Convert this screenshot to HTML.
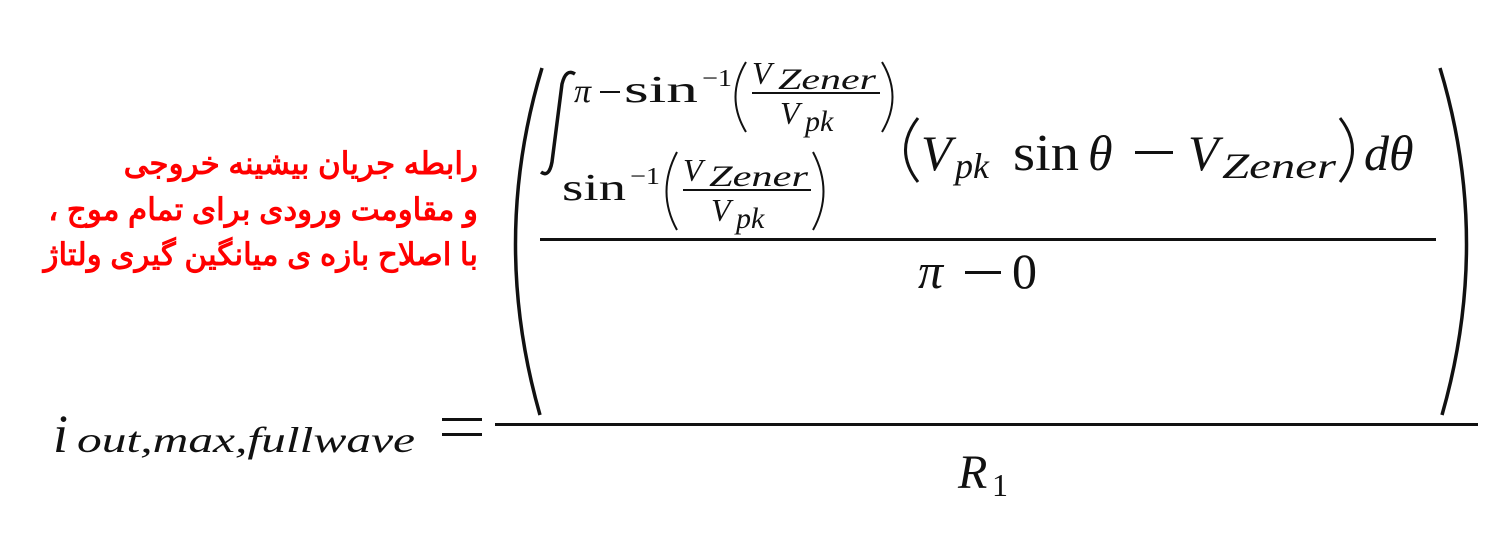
<!DOCTYPE html>
<html><head><meta charset="utf-8"><style>
html,body{margin:0;padding:0;background:#fff;}
.rt{position:absolute;right:1027px;font-family:"Liberation Sans","Noto Sans CJK SC",sans-serif;font-weight:bold;color:#f00;font-size:31px;direction:rtl;white-space:nowrap;line-height:1}
</style></head><body>
<div style="position:relative;width:1505px;height:539px;overflow:hidden">
<div class="rt" style="top:148px">رابطه جریان بیشینه خروجی</div>
<div class="rt" style="top:194px">و مقاومت ورودی برای تمام موج ،</div>
<div class="rt" style="top:239px">با اصلاح بازه ی میانگین گیری ولتاژ</div>
<svg width="1505" height="539" style="position:absolute;left:0;top:0" font-family="Liberation Serif, serif" fill="#111">
<text x="53" y="452" font-size="54" font-style="italic">i</text>
<text x="77" y="452" font-size="36" font-style="italic" textLength="338" lengthAdjust="spacingAndGlyphs">out,max,fullwave</text>
<rect x="442" y="418" width="40" height="3"/><rect x="442" y="433" width="40" height="3"/>
<rect x="495" y="423" width="983" height="3"/>
<text x="958" y="488" font-size="48" font-style="italic">R</text>
<text x="992" y="496" font-size="32">1</text>
<path d="M542 68 Q490 240 540 415" stroke="#111" stroke-width="3.5" fill="none"/>
<path d="M1440 68 Q1492 240 1442 415" stroke="#111" stroke-width="3.5" fill="none"/>
<rect x="540" y="238" width="896" height="3"/>
<text x="918" y="288" font-size="50" font-style="italic">π</text>
<rect x="965" y="271" width="36" height="3"/>
<text x="1012" y="288" font-size="50">0</text>
<path d="M575 74 Q566 68 562 84 L552 162 Q549 178 541 172" stroke="#111" stroke-width="3.5" fill="none"/>
<!-- upper limit -->
<text x="574" y="102" font-size="34" font-style="italic">π</text>
<rect x="600" y="91" width="20" height="2"/>
<text x="624" y="102" font-size="38" textLength="74" lengthAdjust="spacingAndGlyphs">sin</text>
<text x="702" y="86" font-size="24" textLength="30" lengthAdjust="spacingAndGlyphs">−1</text>
<path d="M746 62 Q725 97 746 132" stroke="#111" stroke-width="2" fill="none"/>
<path d="M882 62 Q903 97 882 132" stroke="#111" stroke-width="2" fill="none"/>
<text x="752" y="84" font-size="32" font-style="italic">V</text>
<text x="778" y="89" font-size="30" font-style="italic" textLength="98" lengthAdjust="spacingAndGlyphs">Zener</text>
<rect x="752" y="92" width="128" height="2"/>
<text x="780" y="124" font-size="32" font-style="italic">V</text>
<text x="805" y="131" font-size="30" font-style="italic">pk</text>
<!-- lower limit -->
<text x="562" y="200" font-size="38" textLength="64" lengthAdjust="spacingAndGlyphs">sin</text>
<text x="630" y="184" font-size="24" textLength="30" lengthAdjust="spacingAndGlyphs">−1</text>
<path d="M677 152 Q656 192 677 230" stroke="#111" stroke-width="2" fill="none"/>
<path d="M813 152 Q834 192 813 230" stroke="#111" stroke-width="2" fill="none"/>
<text x="683" y="181" font-size="32" font-style="italic">V</text>
<text x="709" y="186" font-size="30" font-style="italic" textLength="99" lengthAdjust="spacingAndGlyphs">Zener</text>
<rect x="683" y="189" width="128" height="2"/>
<text x="711" y="221" font-size="32" font-style="italic">V</text>
<text x="736" y="228" font-size="30" font-style="italic">pk</text>
<!-- integrand -->
<path d="M918 118 Q893 150 918 182" stroke="#111" stroke-width="3" fill="none"/>
<text x="921" y="170" font-size="50" font-style="italic">V</text>
<text x="955" y="178" font-size="36" font-style="italic">pk</text>
<text x="1013" y="170" font-size="52" textLength="66" lengthAdjust="spacingAndGlyphs">sin</text>
<text x="1088" y="170" font-size="50" font-style="italic">θ</text>
<rect x="1135" y="151" width="38" height="3"/>
<text x="1188" y="170" font-size="50" font-style="italic">V</text>
<text x="1222" y="178" font-size="36" font-style="italic" textLength="114" lengthAdjust="spacingAndGlyphs">Zener</text>
<path d="M1340 118 Q1365 150 1340 182" stroke="#111" stroke-width="3" fill="none"/>
<text x="1364" y="170" font-size="50" font-style="italic">dθ</text>
</svg>
</div>
</body></html>
